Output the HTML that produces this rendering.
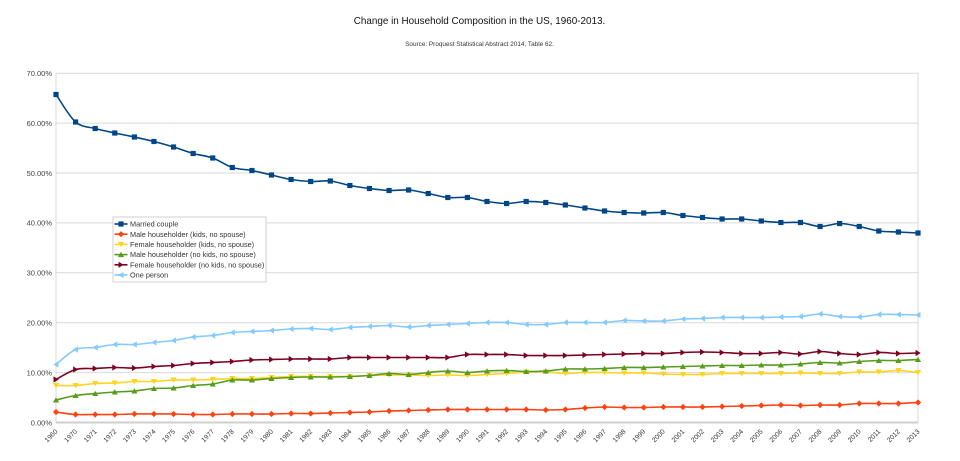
<!DOCTYPE html>
<html><head><meta charset="utf-8"><style>
html,body{margin:0;padding:0;background:#fff}
svg{display:block;font-family:"Liberation Sans",Arial,sans-serif}
</style></head><body>
<svg id="c" width="960" height="461" viewBox="0 0 960 461" xmlns="http://www.w3.org/2000/svg">
<rect width="960" height="461" fill="#fff"/>
<text x="479.5" y="24" font-size="9.9" text-anchor="middle" fill="#111">Change in Household Composition in the US, 1960-2013.</text>
<text x="479.5" y="46" font-size="6.4" text-anchor="middle" fill="#333">Source: Proquest Statistical Abstract 2014, Table 62.</text>
<g stroke="#d9d9d9" stroke-width="1">
<line x1="56" y1="73.2" x2="918" y2="73.2"/>
<line x1="56" y1="123.1" x2="918" y2="123.1"/>
<line x1="56" y1="173" x2="918" y2="173"/>
<line x1="56" y1="222.9" x2="918" y2="222.9"/>
<line x1="56" y1="272.8" x2="918" y2="272.8"/>
<line x1="56" y1="322.7" x2="918" y2="322.7"/>
<line x1="56" y1="372.6" x2="918" y2="372.6"/>
<line x1="56" y1="73.2" x2="56" y2="422.5"/>
<line x1="918" y1="73.2" x2="918" y2="422.5"/>
</g>
<line x1="56" y1="422.5" x2="918" y2="422.5" stroke="#cfcfcf" stroke-width="2"/>
<g font-size="7.5" fill="#444" text-anchor="end">
<text x="52" y="76">70.00%</text>
<text x="52" y="125.9">60.00%</text>
<text x="52" y="175.8">50.00%</text>
<text x="52" y="225.7">40.00%</text>
<text x="52" y="275.6">30.00%</text>
<text x="52" y="325.5">20.00%</text>
<text x="52" y="375.4">10.00%</text>
<text x="52" y="425.3">0.00%</text>
</g>
<g font-size="6.8" fill="#333" text-anchor="end">
<text transform="translate(58,432) rotate(-45)">1960</text>
<text transform="translate(77.6,432) rotate(-45)">1970</text>
<text transform="translate(97.2,432) rotate(-45)">1971</text>
<text transform="translate(116.8,432) rotate(-45)">1972</text>
<text transform="translate(136.4,432) rotate(-45)">1973</text>
<text transform="translate(156,432) rotate(-45)">1974</text>
<text transform="translate(175.5,432) rotate(-45)">1975</text>
<text transform="translate(195.1,432) rotate(-45)">1976</text>
<text transform="translate(214.7,432) rotate(-45)">1977</text>
<text transform="translate(234.3,432) rotate(-45)">1978</text>
<text transform="translate(253.9,432) rotate(-45)">1979</text>
<text transform="translate(273.5,432) rotate(-45)">1980</text>
<text transform="translate(293.1,432) rotate(-45)">1981</text>
<text transform="translate(312.7,432) rotate(-45)">1982</text>
<text transform="translate(332.3,432) rotate(-45)">1983</text>
<text transform="translate(351.9,432) rotate(-45)">1984</text>
<text transform="translate(371.4,432) rotate(-45)">1985</text>
<text transform="translate(391,432) rotate(-45)">1986</text>
<text transform="translate(410.6,432) rotate(-45)">1987</text>
<text transform="translate(430.2,432) rotate(-45)">1988</text>
<text transform="translate(449.8,432) rotate(-45)">1989</text>
<text transform="translate(469.4,432) rotate(-45)">1990</text>
<text transform="translate(489,432) rotate(-45)">1991</text>
<text transform="translate(508.6,432) rotate(-45)">1992</text>
<text transform="translate(528.2,432) rotate(-45)">1993</text>
<text transform="translate(547.8,432) rotate(-45)">1994</text>
<text transform="translate(567.3,432) rotate(-45)">1995</text>
<text transform="translate(586.9,432) rotate(-45)">1996</text>
<text transform="translate(606.5,432) rotate(-45)">1997</text>
<text transform="translate(626.1,432) rotate(-45)">1998</text>
<text transform="translate(645.7,432) rotate(-45)">1999</text>
<text transform="translate(665.3,432) rotate(-45)">2000</text>
<text transform="translate(684.9,432) rotate(-45)">2001</text>
<text transform="translate(704.5,432) rotate(-45)">2002</text>
<text transform="translate(724.1,432) rotate(-45)">2003</text>
<text transform="translate(743.7,432) rotate(-45)">2004</text>
<text transform="translate(763.2,432) rotate(-45)">2005</text>
<text transform="translate(782.8,432) rotate(-45)">2006</text>
<text transform="translate(802.4,432) rotate(-45)">2007</text>
<text transform="translate(822,432) rotate(-45)">2008</text>
<text transform="translate(841.6,432) rotate(-45)">2009</text>
<text transform="translate(861.2,432) rotate(-45)">2010</text>
<text transform="translate(880.8,432) rotate(-45)">2011</text>
<text transform="translate(900.4,432) rotate(-45)">2012</text>
<text transform="translate(920,432) rotate(-45)">2013</text>
</g>
<g id="series"></g>
<rect x="113" y="217" width="153" height="65" fill="#fff" stroke="#d0d0d0" stroke-width="1"/>
<g id="legsym"></g>
<g font-size="7.3" fill="#333">
<text x="130" y="226.6">Married couple</text>
<text x="130" y="236.8">Male householder (kids, no spouse)</text>
<text x="130" y="247">Female householder (kids, no spouse)</text>
<text x="130" y="257.2">Male householder (no kids, no spouse)</text>
<text x="130" y="267.4">Female householder (no kids, no spouse)</text>
<text x="130" y="277.6">One person</text>
</g>
</svg>
<script>
(function(){
var NS="http://www.w3.org/2000/svg";
var data=[
 {c:"#004586",m:"sq",v:[65.7,60.2,58.9,58.0,57.2,56.3,55.2,53.9,53.0,51.1,50.5,49.6,48.7,48.3,48.4,47.5,46.9,46.5,46.6,45.9,45.1,45.1,44.3,43.9,44.3,44.1,43.6,43.0,42.4,42.1,42.0,42.1,41.5,41.1,40.8,40.8,40.4,40.1,40.1,39.3,39.9,39.3,38.4,38.2,38.0]},
 {c:"#ff420e",m:"di",v:[2.2,1.7,1.7,1.7,1.8,1.8,1.8,1.7,1.7,1.8,1.8,1.8,1.9,1.9,2.0,2.1,2.2,2.4,2.5,2.6,2.7,2.7,2.7,2.7,2.7,2.6,2.7,3.0,3.2,3.1,3.1,3.2,3.2,3.2,3.3,3.4,3.5,3.6,3.5,3.6,3.6,3.9,3.9,3.9,4.1]},
 {c:"#ffd320",m:"dn",v:[7.5,7.5,7.9,8.0,8.3,8.3,8.6,8.6,8.7,8.9,8.9,9.1,9.3,9.3,9.3,9.3,9.5,9.6,9.6,9.5,9.6,9.5,9.7,9.9,10.2,10.2,9.9,10.1,10.1,10.0,10.0,9.8,9.7,9.7,9.9,9.9,9.9,9.9,10.0,9.9,9.9,10.2,10.2,10.5,10.1]},
 {c:"#579d1c",m:"up",v:[4.6,5.5,5.9,6.2,6.4,6.9,7.0,7.5,7.8,8.6,8.6,8.9,9.1,9.2,9.2,9.3,9.5,9.9,9.7,10.1,10.4,10.1,10.4,10.5,10.3,10.4,10.8,10.8,10.9,11.1,11.1,11.2,11.3,11.4,11.5,11.5,11.6,11.6,11.8,12.1,12.0,12.3,12.5,12.5,12.7]},
 {c:"#7e0021",m:"rt",v:[8.7,10.7,10.9,11.1,11.0,11.3,11.5,11.9,12.1,12.3,12.6,12.7,12.8,12.8,12.8,13.1,13.1,13.1,13.1,13.1,13.1,13.7,13.7,13.7,13.5,13.5,13.5,13.6,13.7,13.8,13.9,13.9,14.1,14.2,14.1,13.9,13.9,14.1,13.8,14.3,13.9,13.7,14.1,13.9,14.0]},
 {c:"#83caff",m:"lt",v:[11.7,14.7,15.1,15.7,15.7,16.1,16.5,17.2,17.5,18.1,18.3,18.5,18.8,18.9,18.7,19.1,19.3,19.5,19.2,19.5,19.7,19.9,20.1,20.1,19.7,19.7,20.1,20.1,20.1,20.5,20.4,20.4,20.8,20.9,21.1,21.1,21.1,21.2,21.3,21.8,21.3,21.2,21.7,21.7,21.6]}
];
function X(k){return 56+k*19.591;}
function Y(v){return 423-5*v;}
function marker(g,type,x,y,col){
 var e;
 if(type==="sq"){e=document.createElementNS(NS,"rect");e.setAttribute("x",x-2.6);e.setAttribute("y",y-2.6);e.setAttribute("width",5.2);e.setAttribute("height",5.2);}
 else{
  var p,s=3.1;
  if(type==="di")p=[[x,y-s],[x+s,y],[x,y+s],[x-s,y]];
  else if(type==="dn")p=[[x-s,y-s*0.8],[x+s,y-s*0.8],[x,y+s*0.9]];
  else if(type==="up")p=[[x-s,y+s*0.8],[x+s,y+s*0.8],[x,y-s*0.9]];
  else if(type==="rt")p=[[x-s*0.8,y-s],[x-s*0.8,y+s],[x+s*0.9,y]];
  else p=[[x+s*0.8,y-s],[x+s*0.8,y+s],[x-s*0.9,y]];
  e=document.createElementNS(NS,"polygon");
  e.setAttribute("points",p.map(function(q){return q[0].toFixed(2)+","+q[1].toFixed(2);}).join(" "));
 }
 e.setAttribute("fill",col);
 g.appendChild(e);
}
var sg=document.getElementById("series");
data.forEach(function(s){
 var pts=s.v.map(function(v,k){return [X(k),Y(v)];});
 var d="M"+pts[0][0].toFixed(2)+","+pts[0][1].toFixed(2);
 for(var i=0;i<pts.length-1;i++){
  var p0=pts[i>0?i-1:i],p1=pts[i],p2=pts[i+1],p3=pts[i+2<pts.length?i+2:i+1];
  var c1x=p1[0]+(p2[0]-p0[0])/6,c1y=p1[1]+(p2[1]-p0[1])/6;
  var c2x=p2[0]-(p3[0]-p1[0])/6,c2y=p2[1]-(p3[1]-p1[1])/6;
  d+="C"+c1x.toFixed(2)+","+c1y.toFixed(2)+" "+c2x.toFixed(2)+","+c2y.toFixed(2)+" "+p2[0].toFixed(2)+","+p2[1].toFixed(2);
 }
 var path=document.createElementNS(NS,"path");
 path.setAttribute("d",d);path.setAttribute("fill","none");path.setAttribute("stroke",s.c);path.setAttribute("stroke-width","1.6");path.setAttribute("stroke-linejoin","round");
 sg.appendChild(path);
 pts.forEach(function(p){marker(sg,s.m,p[0],p[1],s.c);});
});
var lg=document.getElementById("legsym");
data.forEach(function(s,i){
 var y=224+i*10.2;
 var l=document.createElementNS(NS,"line");
 l.setAttribute("x1",114.5);l.setAttribute("x2",127.5);l.setAttribute("y1",y);l.setAttribute("y2",y);
 l.setAttribute("stroke",s.c);l.setAttribute("stroke-width","1.6");
 lg.appendChild(l);
 marker(lg,s.m,121,y,s.c);
});
})();
</script>
</body></html>
